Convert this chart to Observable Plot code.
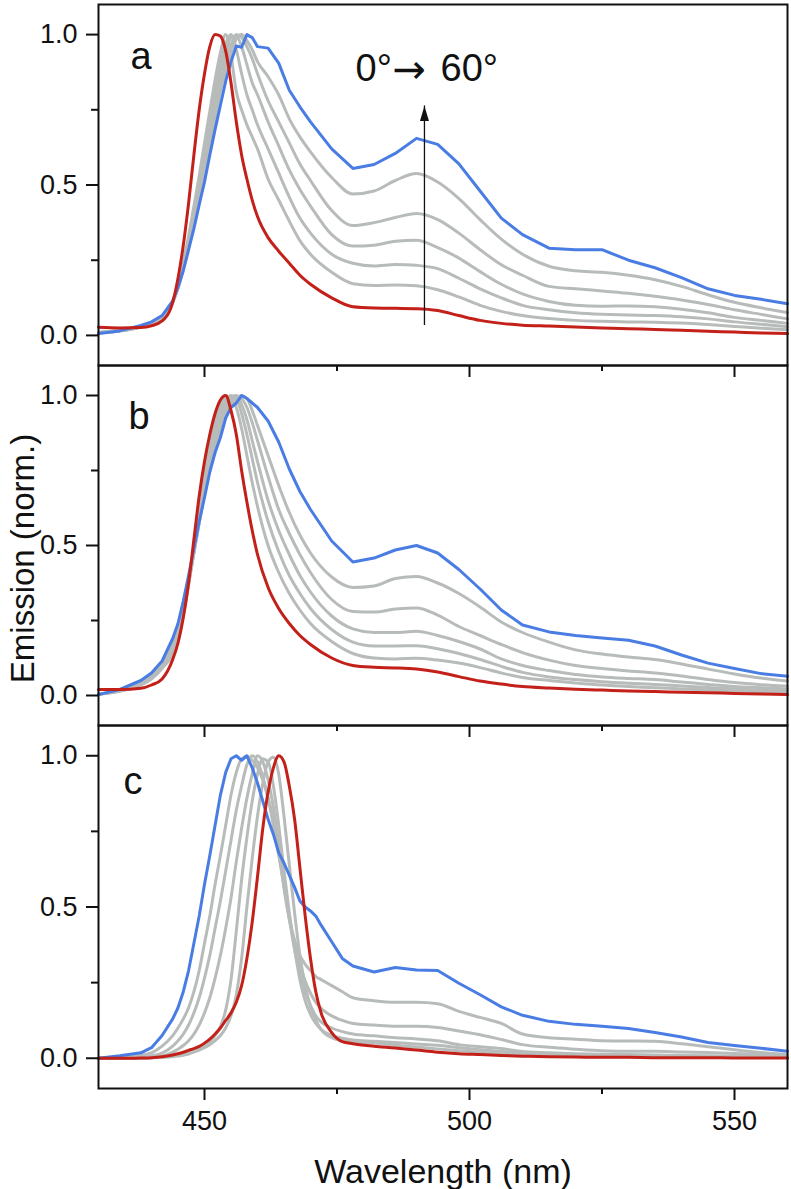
<!DOCTYPE html>
<html><head><meta charset="utf-8">
<script src="https://cdn.jsdelivr.net/npm/d3@7"></script>
<script src="https://cdn.jsdelivr.net/npm/@observablehq/plot@0.6"></script>
<style>
body{margin:0;background:#fff;}
#chart{position:relative;width:791px;height:1189px;}
#chart svg{position:absolute;left:0;}
</style></head><body><div id="chart"></div>
<script>
// ---------- data ----------
const angles = [0, 10, 20, 30, 40, 50, 60];
const wavelengthsAB = [430,434,438,440,442,444,445,446,447,448,449,450,451,452,453,454,455,456,457,458,459,460,462,464,466,468,470,474,478,482,486,490,494,498,502,506,510,515,520,525,530,535,540,545,550,555,560];
const wavelengthsC = [430,434,438,440,442,444,445,446,447,448,449,450,451,452,453,454,455,456,457,458,459,460,461,462,463,464,465,466,467,468,469,470,471,472,474,476,478,482,486,490,494,498,502,506,510,515,520,525,530,535,540,545,550,555,560];

// panel a
const a0  = [.027,.025,.026,.032,.048, .11,.19,.30,.44,.60,.75,.87,.96,1.0,.995,.945,.84,.71,.60,.52,.45,.395, .325,.28,.24,.2,.17, .125,.095,.091,.09,.089,.083,.066,.05,.04,.034, .031,.028,.025,.022,.02,.017,.014,.011,.008,.006];
const a10 = [.01,.017,.03,.04,.058, .11,.17,.245,.33,.43,.53,.64,.745,.85,.94,1.0,.93,.81,.75,.7,.66,.62, .52,.45,.38,.315,.27, .21,.172,.166,.168,.165,.152,.128,.1,.08,.066, .056,.05,.047,.045,.044,.041,.036,.03,.024,.019];
const a20 = [.01,.016,.029,.04,.058, .11,.165,.235,.315,.41,.51,.61,.71,.81,.9,.97,1.0,.95,.87,.8,.75,.7, .62,.54,.46,.39,.34, .27,.24,.231,.236,.233,.222,.19,.155,.125,.1, .085,.075,.07,.068,.066,.062,.055,.045,.037,.029];
const a30 = [.009,.016,.029,.04,.058, .11,.16,.23,.305,.39,.48,.58,.68,.78,.87,.94,.99,.995,.96,.9,.84,.8, .71,.63,.55,.485,.43, .335,.297,.3,.313,.316,.292,.257,.212,.17,.138, .113,.1,.097,.098,.095,.087,.075,.06,.05,.04];
const a40 = [.009,.015,.028,.04,.058, .11,.158,.225,.3,.38,.47,.56,.655,.75,.84,.91,.965,1.0,.99,.96,.92,.87, .78,.71,.64,.57,.515, .415,.365,.375,.392,.405,.385,.34,.285,.235,.2, .163,.155,.148,.14,.13,.118,.103,.085,.07,.055];
const a50 = [.008,.015,.028,.04,.06, .112,.155,.22,.29,.37,.455,.54,.63,.72,.81,.88,.94,.985,1.0,.98,.95,.91, .86,.8,.72,.66,.61, .525,.47,.48,.515,.538,.51,.455,.385,.32,.27, .23,.215,.21,.2,.185,.163,.135,.11,.092,.076];
const a60 = [.006,.015,.033,.045,.066, .115,.16,.215,.285,.355,.435,.51,.6,.685,.765,.845,.91,.962,.958,1.0,.99,.96, .955,.905,.815,.76,.71, .62,.555,.568,.605,.655,.635,.57,.48,.39,.335, .29,.285,.285,.25,.225,.192,.155,.133,.12,.105];

// panel b
const b0  = [.02,.02,.024,.035,.055, .12,.175,.26,.375,.52,.665,.78,.87,.94,.985,1.0,.95,.87,.75,.645,.55,.47, .36,.29,.24,.2,.17, .125,.1,.094,.092,.088,.078,.063,.048,.038,.03, .025,.021,.018,.015,.013,.011,.009,.007,.005,.003];
const b10 = [.005,.014,.035,.055,.09, .14,.195,.27,.37,.49,.61,.74,.84,.92,.97,.995,.995,.96,.89,.8,.71,.63, .5,.41,.34,.285,.24, .18,.14,.125,.122,.124,.118,.108,.093,.075,.06, .05,.042,.035,.03,.026,.022,.018,.015,.012,.01];
const b20 = [.005,.015,.037,.058,.095, .15,.205,.28,.37,.48,.59,.71,.81,.895,.95,.985,1.0,.99,.94,.87,.79,.71, .58,.48,.4,.34,.29, .22,.178,.165,.165,.166,.156,.14,.12,.097,.077, .062,.053,.046,.041,.037,.032,.027,.022,.019,.017];
const b30 = [.004,.016,.04,.062,.1, .16,.215,.285,.375,.475,.58,.69,.79,.87,.93,.97,.995,1.0,.97,.92,.85,.78, .65,.55,.47,.4,.345, .265,.222,.21,.21,.214,.2,.18,.155,.122,.1, .083,.07,.062,.057,.053,.045,.037,.03,.026,.022];
const b40 = [.004,.017,.043,.066,.105, .17,.225,.295,.38,.475,.575,.68,.77,.85,.91,.955,.985,.998,.99,.96,.91,.85, .73,.62,.54,.47,.41, .32,.28,.278,.288,.292,.268,.23,.2,.17,.143, .118,.1,.09,.082,.075,.065,.053,.043,.036,.031];
const b50 = [.004,.018,.046,.07,.11, .18,.232,.305,.39,.48,.575,.67,.76,.835,.89,.94,.97,.99,1.0,.99,.95,.9, .8,.7,.61,.535,.475, .395,.36,.365,.39,.397,.375,.34,.295,.245,.21, .178,.152,.138,.128,.12,.105,.088,.072,.058,.048];
const b60 = [.003,.02,.05,.075,.115, .19,.24,.315,.4,.49,.58,.66,.745,.81,.86,.925,.96,.975,1.0,.99,.975,.96, .915,.845,.755,.68,.62, .515,.445,.458,.485,.5,.475,.42,.355,.285,.235, .212,.2,.192,.184,.165,.135,.108,.09,.073,.064];

// panel c
const c0  = [0,0,.001,.002,.005, .011,.015,.02,.026,.032,.039,.05,.063,.08,.1,.125,.15,.185,.24,.33,.45,.6,.76,.88,.96,1.0,.98,.9,.79,.63,.47,.33,.22,.15, .085,.055,.048, .04,.034,.027,.02,.015,.012,.009,.007, .005,.004,.003,.003,.002,.002,.002,.001,.001,.001];
const c10 = [0,0,.001,.002,.003, .005,.007,.01,.014,.02,.027,.035,.045,.058,.075,.1,.14,.21,.33,.5,.66,.8,.91,.98,.995,.94,.8,.64,.48,.34,.24,.17,.125,.095, .068,.058,.053, .05,.043,.037,.031,.025,.02,.016,.013, .01,.009,.008,.007,.006,.005,.004,.004,.003,.003];
const c20 = [0,0,.001,.002,.004, .008,.012,.017,.024,.03,.035,.04,.055,.075,.105,.16,.26,.42,.59,.73,.85,.94,.99,.98,.9,.77,.62,.48,.36,.26,.19,.145,.115,.095, .075,.066,.06, .056,.052,.047,.043,.035,.028,.022,.018, .014,.012,.01,.009,.008,.007,.006,.005,.004,.004];
const c30 = [0,0,.001,.003,.007, .02,.03,.042,.058,.08,.11,.15,.2,.265,.34,.43,.53,.65,.76,.86,.94,1.0,.98,.92,.83,.71,.58,.46,.36,.28,.22,.175,.14,.12, .1,.088,.08, .074,.068,.064,.058,.045,.038,.032,.022, .018,.015,.013,.012,.011,.009,.008,.007,.006,.006];
const c40 = [0,.001,.004,.008,.017, .04,.058,.08,.11,.15,.2,.265,.34,.43,.52,.62,.72,.82,.9,.97,1.0,.98,.93,.86,.77,.67,.57,.47,.38,.31,.255,.215,.185,.165, .14,.125,.115, .11,.106,.106,.102,.09,.078,.062,.045, .036,.03,.025,.023,.023,.021,.019,.016,.012,.009];
const c50 = [0,.004,.01,.018,.04, .075,.1,.13,.167,.22,.29,.38,.47,.575,.67,.77,.87,.945,.99,.998,.985,.96,.92,.86,.79,.7,.56,.46,.39,.34,.31,.29,.27,.26, .24,.22,.2, .19,.185,.185,.18,.155,.135,.115,.08, .068,.063,.058,.057,.056,.048,.038,.028,.019,.012];
const c60 = [0,.008,.018,.035,.075, .13,.167,.22,.29,.38,.47,.575,.67,.77,.87,.945,.99,1.0,.985,1.0,.96,.91,.85,.79,.74,.68,.645,.605,.565,.52,.5,.487,.47,.44, .385,.33,.305, .285,.3,.292,.29,.248,.21,.17,.142, .122,.112,.106,.098,.085,.07,.052,.042,.033,.023];

const xTicksMajor = [450, 500, 550];
const xTicksMinor = [475, 525];
const yTicksMajor = [0, 0.5, 1.0];
const yTicksMinor = [0.25, 0.75];
const panelLetters = ["a", "b", "c"];
const arrowLabelParts = ["0°", "\u2192", "60°"];
const arrowX = [491.5];
const arrowFrom = [0.033];
const arrowTo = [0.763];
const xLabel = "Wavelength (nm)";
const yLabel = "Emission (norm.)";

// ---------- build ----------
const BLUE = "#4a7de3", RED = "#c4201a", GRAY = "#b7bcba", INK = "#111";
const FONT = "Liberation Sans, Arial, sans-serif";
function rowsFor(ws, series) {
  const rows = [];
  series.forEach((vals, i) => vals.forEach((v, j) => rows.push({angle: angles[i], w: ws[j], v})));
  return rows;
}
const arrowData = arrowX.map((x, i) => ({x, y1: arrowFrom[i], y2: arrowTo[i]}));

function makePanel(cfg) {
  const {rows, letter, ldx, ldy, height, mt, mb, topTicks, bottomAxis, extras} = cfg;
  const H = height - mt - mb;
  const marks = [
    Plot.line(rows.filter(d => d.angle > 0 && d.angle < 60), {x: "w", y: "v", z: "angle", stroke: GRAY, strokeWidth: 3, curve: "monotone-x"}),
    Plot.line(rows.filter(d => d.angle === 60), {x: "w", y: "v", stroke: BLUE, strokeWidth: 3, strokeLinejoin: "round"}),
    Plot.line(rows.filter(d => d.angle === 0), {x: "w", y: "v", stroke: RED, strokeWidth: 3, curve: "monotone-x"}),
    Plot.axisY(yTicksMajor, {tickSize: 12, tickPadding: 9, tickFormat: d3.format(".1f"), strokeWidth: 2, fontSize: 27, label: null}),
    Plot.axisY(yTicksMinor, {tickSize: 7, tickFormat: () => "", strokeWidth: 2, label: null})
  ];
  if (topTicks) {
    marks.push(Plot.ruleX(xTicksMajor, {insetBottom: H - 12, stroke: INK, strokeWidth: 2}));
    marks.push(Plot.ruleX(xTicksMinor, {insetBottom: H - 6, stroke: INK, strokeWidth: 2}));
  }
  if (bottomAxis) {
    marks.push(Plot.axisX(xTicksMajor, {anchor: "bottom", tickSize: 12, tickPadding: 10, strokeWidth: 2, fontSize: 27, label: null}));
    marks.push(Plot.axisX(xTicksMinor, {anchor: "bottom", tickSize: 6, tickFormat: () => "", strokeWidth: 2, label: null}));
  }
  marks.push(Plot.frame({stroke: INK, strokeWidth: 2}));
  marks.push(Plot.text([letter], {frameAnchor: "top-left", dx: ldx, dy: ldy, textAnchor: "start", lineAnchor: "bottom", fontSize: 38, fill: INK}));
  if (extras) marks.push(...extras);
  return Plot.plot({
    width: 791, height,
    marginLeft: 98, marginRight: 4, marginTop: mt, marginBottom: mb,
    x: {domain: [430, 560], axis: bottomAxis ? undefined : null},
    y: {domain: [-0.1, 1.1]},
    style: {fontFamily: FONT, fontSize: "27px", background: "transparent", overflow: "visible", color: INK},
    marks
  });
}

const svgA = makePanel({
  rows: rowsFor(wavelengthsAB, [a0, a10, a20, a30, a40, a50, a60]),
  letter: panelLetters[0], ldx: 32, ldy: 64, height: 367, mt: 4, mb: 2,
  topTicks: false, bottomAxis: false,
  extras: [
    Plot.ruleX(arrowData, {x: "x", y1: "y1", y2: "y2", stroke: INK, strokeWidth: 1.3}),
    Plot.vector(arrowData, {x: "x", y: "y2", length: 15, r: 4.5, shape: "spike", anchor: "end", fill: INK, stroke: "none"}),
    Plot.text([arrowLabelParts[0]], {frameAnchor: "top-left", dx: 257, dy: 76, textAnchor: "start", lineAnchor: "bottom", fontSize: 38, fill: INK}),
    Plot.text([arrowLabelParts[1]], {frameAnchor: "top-left", dx: 294, dy: 78, textAnchor: "start", lineAnchor: "bottom", fontSize: 40, fontFamily: "DejaVu Sans", fill: INK}),
    Plot.text([arrowLabelParts[2]], {frameAnchor: "top-left", dx: 342, dy: 76, textAnchor: "start", lineAnchor: "bottom", fontSize: 38, fill: INK})
  ]
});
const svgB = makePanel({
  rows: rowsFor(wavelengthsAB, [b0, b10, b20, b30, b40, b50, b60]),
  letter: panelLetters[1], ldx: 30, ldy: 63, height: 364, mt: 2, mb: 2,
  topTicks: true, bottomAxis: false,
  extras: [
    Plot.text([yLabel], {frameAnchor: "left", dx: -65, dy: 13, rotate: -90, textAnchor: "middle", lineAnchor: "bottom", fontSize: 33, fill: INK})
  ]
});
const svgC = makePanel({
  rows: rowsFor(wavelengthsC, [c0, c10, c20, c30, c40, c50, c60]),
  letter: panelLetters[2], ldx: 25, ldy: 68, height: 466, mt: 2, mb: 101,
  topTicks: true, bottomAxis: true,
  extras: [
    Plot.text([xLabel], {frameAnchor: "bottom", dy: 94, textAnchor: "middle", lineAnchor: "bottom", fontSize: 34, fill: INK})
  ]
});

const chart = document.getElementById("chart");
[[svgA, 0], [svgB, 363], [svgC, 723]].forEach(([s, top]) => {
  s.style.top = top + "px";
  chart.appendChild(s);
});
</script></body></html>
